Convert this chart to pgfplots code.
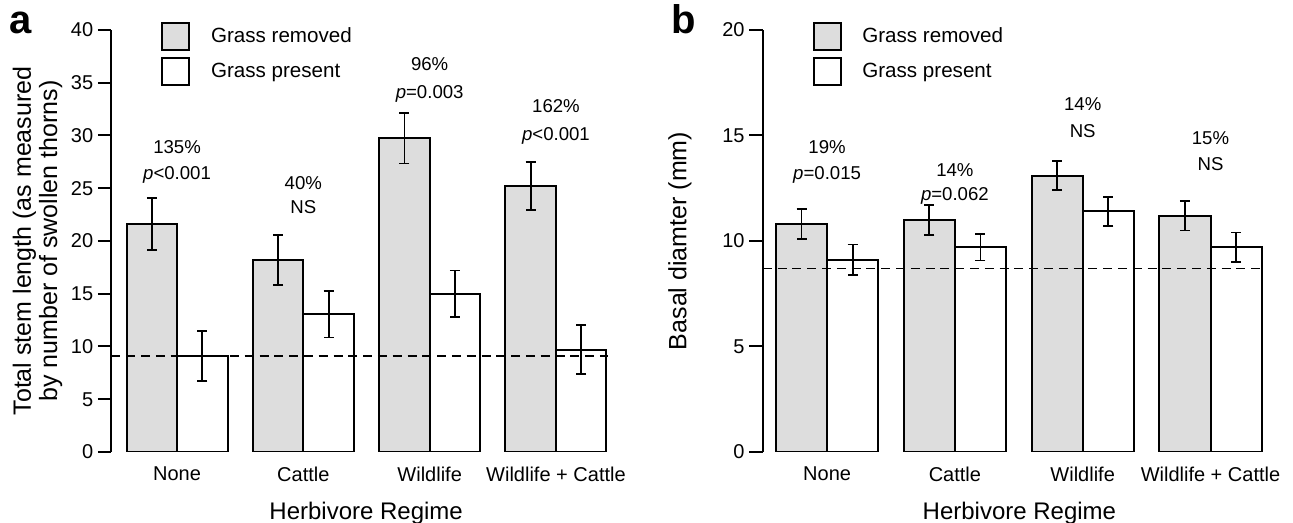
\documentclass[border=0pt]{standalone}
\usepackage{fontspec}
\setmainfont{Liberation Sans}
\usepackage{pgfplots}
\pgfplotsset{compat=1.18}
\definecolor{barfill}{RGB}{221,221,221}
\tikzset{ann/.style={anchor=base, font=\fontsize{9.3}{11}\selectfont}}
\pgfplotsset{
  mybase/.style={
    scale only axis, anchor=south west,
    axis y line*=left, axis x line*=bottom,
    x axis line style={draw=none},
    y axis line style={line width=1pt, -},
    xtick={1,2,3,4}, xticklabels={None,Cattle,Wildlife,Wildlife + Cattle},
    xtick style={draw=none},
    ytick style={line width=1pt, black},
    tick align=outside, major tick length=6.75pt,
    ticklabel style={font=\fontsize{10}{12}\selectfont},
    /pgf/number format/assume math mode=true,
    yticklabel style={anchor=east, inner sep=0pt, xshift=-2.2pt},
    xticklabel style={anchor=north, inner sep=0pt, yshift=-0.55pt},
    xlabel={Herbivore Regime},
    xlabel style={font=\fontsize{12}{14}\selectfont, at={(axis description cs:0.5,0)}, anchor=north, inner sep=0pt, yshift=-24.85pt, xshift=2pt},
    legend style={draw=none, fill=none, at={(axis description cs:0,1)}, anchor=north west, xshift=24.75pt, yshift=4.15pt, inner sep=0pt, row sep=3.35pt, font=\fontsize{10.3}{12}\selectfont, cells={anchor=west}, /tikz/every odd column/.append style={column sep=8.3pt}},
  },
  ebars/.style={error bars/.cd, y dir=both, y explicit, error bar style={line width=0.9pt, black}, error mark options={rotate=90, mark size=2.5pt, line width=0.9pt, black}},
  gbar/.style={ybar, bar width=0.4, bar shift=0, fill=barfill, draw=black, line width=1pt,
    legend image code/.code={\draw[fill=barfill, draw=black, line width=1pt] (0pt,-6.65pt) rectangle (13.5pt,6.65pt);}, ebars},
  wbar/.style={ybar, bar width=0.4, bar shift=0, fill=white, draw=black, line width=1pt,
    legend image code/.code={\draw[fill=white, draw=black, line width=1pt] (0pt,-6.65pt) rectangle (13.5pt,6.65pt);}, ebars},
}
\begin{document}
\begin{tikzpicture}
\useasboundingbox (0,0) rectangle (646.5pt,261.5pt);
\node[anchor=base, font=\bfseries\fontsize{20}{24}\selectfont] at (10.5pt,244.5pt) {a};
\node[anchor=base, font=\bfseries\fontsize{20}{24}\selectfont] at (342pt,244.5pt) {b};
% Panel a
\begin{axis}[mybase, at={(55.75pt,35.5pt)}, width=250.65pt, height=211pt,
  xmin=0.481, xmax=4.45, ymin=0, ymax=40, ytick={0,5,...,40},
  ylabel={Total stem length (as measured\\by number of swollen thorns)},
  ylabel style={font=\fontsize{12.5}{13.2}\selectfont, align=center, at={(axis description cs:-0.1476,0.5)}, anchor=center, inner sep=0pt}]
\addplot[gbar] coordinates {(0.8,21.6) +- (0,2.45) (1.8,18.2) +- (0,2.4) (2.8,29.75) +- (0,2.4) (3.8,25.2) +- (0,2.3)};
\addlegendentry{Grass removed}
\addplot[wbar] coordinates {(1.2,9.1) +- (0,2.35) (2.2,13.05) +- (0,2.2) (3.2,15.0) +- (0,2.2) (4.2,9.7) +- (0,2.3)};
\addlegendentry{Grass present}
\addplot[black, line width=0.75pt, dash pattern=on 4.5pt off 2.9pt, forget plot] coordinates {(0.481,9.1) (4.41,9.1)};
\node[ann] at (axis cs:1,28.32) {135\%};
\node[ann] at (axis cs:1,25.8) {\textit{p}<0.001};
\node[ann] at (axis cs:2,24.91) {40\%};
\node[ann] at (axis cs:2,22.64) {NS};
\node[ann] at (axis cs:3,36.13) {96\%};
\node[ann] at (axis cs:3,33.54) {\textit{p}=0.003};
\node[ann] at (axis cs:4,32.18) {162\%};
\node[ann] at (axis cs:4,29.53) {\textit{p}<0.001};
\end{axis}
% Panel b
\begin{axis}[mybase, at={(381.4pt,35.5pt)}, width=252.6pt, height=211pt,
  xmin=0.497, xmax=4.45, ymin=0, ymax=20, ytick={0,5,10,15,20},
  ylabel={Basal diamter (mm)},
  ylabel style={font=\fontsize{12.5}{13.5}\selectfont, at={(axis description cs:-0.1639,0.5)}, anchor=center, inner sep=0pt}]
\addplot[gbar] coordinates {(0.8,10.8) +- (0,0.7) (1.8,11.0) +- (0,0.7) (2.8,13.1) +- (0,0.7) (3.8,11.2) +- (0,0.7)};
\addlegendentry{Grass removed}
\addplot[wbar] coordinates {(1.2,9.1) +- (0,0.73) (2.2,9.7) +- (0,0.62) (3.2,11.4) +- (0,0.7) (4.2,9.7) +- (0,0.7)};
\addlegendentry{Grass present}
\addplot[black, line width=0.75pt, dash pattern=on 4.5pt off 2.9pt, forget plot] coordinates {(0.497,8.7) (4.41,8.7)};
\node[ann] at (axis cs:1,14.16) {19\%};
\node[ann] at (axis cs:1,12.9) {\textit{p}=0.015};
\node[ann] at (axis cs:2,13.06) {14\%};
\node[ann] at (axis cs:2,11.92) {\textit{p}=0.062};
\node[ann] at (axis cs:3,16.17) {14\%};
\node[ann] at (axis cs:3,14.92) {NS};
\node[ann] at (axis cs:4,14.59) {15\%};
\node[ann] at (axis cs:4,13.34) {NS};
\end{axis}
\end{tikzpicture}
\end{document}
